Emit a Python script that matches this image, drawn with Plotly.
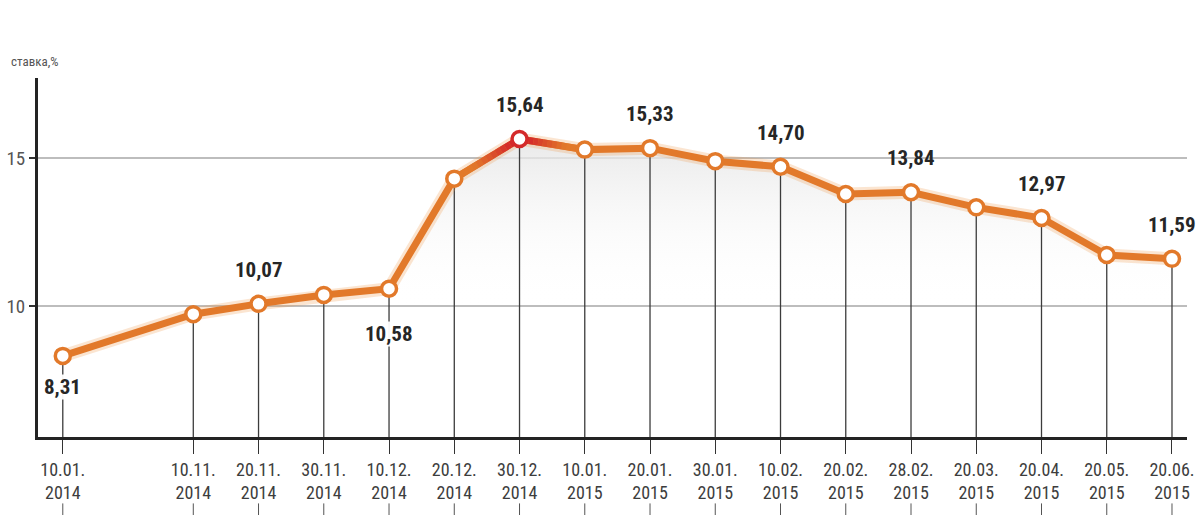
import plotly.graph_objects as go

# Dates shown on the x axis (two-line labels)
dates = ["10.01.<br>2014", "10.11.<br>2014", "20.11.<br>2014", "30.11.<br>2014",
         "10.12.<br>2014", "20.12.<br>2014", "30.12.<br>2014", "10.01.<br>2015",
         "20.01.<br>2015", "30.01.<br>2015", "10.02.<br>2015", "20.02.<br>2015",
         "28.02.<br>2015", "20.03.<br>2015", "20.04.<br>2015", "20.05.<br>2015",
         "20.06.<br>2015"]

# Rate, %
rates = [8.31, 9.72, 10.07, 10.37, 10.58, 14.30, 15.64, 15.28, 15.33, 14.89,
         14.70, 13.78, 13.84, 13.33, 12.97, 11.72, 11.59]

# Points whose value is printed on the chart
labeled = [0, 2, 4, 6, 8, 10, 12, 14, 16]

y_ticks = [10, 15]

# ---- layout helpers -------------------------------------------------------
# an empty slot after the first date marks the skipped months
x_pos = [i + (1 if i > 0 else 0) for i in range(len(rates))]
Y_MIN, Y_MAX = 5.57, 17.70
X_MIN, X_MAX = -0.38, 17.23

ORANGE = "#e2792a"
RED = "#d42a2a"
FONT = "Roboto Condensed, Open Sans Condensed, DejaVu Sans Condensed, sans-serif"

# label offsets in pixels (positive = above the point)
label_shift = {0: -31, 4: -45}
DEFAULT_SHIFT = 34

peak = max(range(len(rates)), key=lambda i: rates[i])

fig = go.Figure()

# shaded area under the curve
fig.add_trace(go.Scatter(
    x=x_pos, y=rates, mode="none", fill="tozeroy",
    fillgradient=dict(type="vertical", start=10.0, stop=16.5,
                      colorscale=[[0, "rgba(255,255,255,0)"], [1, "#e2e2e2"]]),
    hoverinfo="skip", showlegend=False))

# drop lines from each point down to the x axis
fig.add_trace(go.Scatter(
    x=x_pos, y=rates, mode="markers", marker=dict(size=1, opacity=0),
    error_y=dict(type="data", symmetric=False, array=[0] * len(rates),
                 arrayminus=[v - Y_MIN for v in rates],
                 color="#3c3c3c", thickness=1.3, width=0),
    hoverinfo="skip", showlegend=False))

# soft glow under the line
fig.add_trace(go.Scatter(
    x=x_pos, y=rates, mode="lines",
    line=dict(color="rgba(240,150,70,0.25)", width=13),
    hoverinfo="skip", showlegend=False))

# main line
fig.add_trace(go.Scatter(
    x=x_pos, y=rates, mode="lines", line=dict(color=ORANGE, width=7),
    hoverinfo="skip", showlegend=False))


def mix(c1, c2, t):
    a = [int(c1[k:k + 2], 16) for k in (1, 3, 5)]
    b = [int(c2[k:k + 2], 16) for k in (1, 3, 5)]
    return "#" + "".join(f"{round(a[j] + (b[j] - a[j]) * t):02x}" for j in range(3))


# red tint on the two segments meeting at the peak
STEPS = 14
for nb in (peak - 1, peak + 1):
    x0, y0 = x_pos[nb], rates[nb]
    x1, y1 = x_pos[peak], rates[peak]
    for s in range(STEPS):
        t0, t1 = s / STEPS, (s + 1) / STEPS
        tc = min(1.0, max(0.0, ((t0 + t1) / 2 - 0.3) / 0.55))
        fig.add_trace(go.Scatter(
            x=[x0 + (x1 - x0) * t0, x0 + (x1 - x0) * t1],
            y=[y0 + (y1 - y0) * t0, y0 + (y1 - y0) * t1],
            mode="lines", line=dict(color=mix(ORANGE, RED, tc), width=7),
            hoverinfo="skip", showlegend=False))

# point markers
fig.add_trace(go.Scatter(
    x=x_pos, y=rates, mode="markers",
    marker=dict(size=15, color="white",
                line=dict(width=3.5,
                          color=[RED if i == peak else ORANGE for i in range(len(rates))])),
    hoverinfo="skip", showlegend=False))

# value labels
for i in labeled:
    shift = label_shift.get(i, DEFAULT_SHIFT)
    fig.add_annotation(
        x=x_pos[i], y=rates[i], xref="x", yref="y",
        text=f"{rates[i]:.2f}".replace(".", ","),
        showarrow=False, yshift=shift,
        font=dict(family=FONT, size=21, color="#262626", weight="bold"),
        bgcolor="rgba(255,255,255,0.95)" if shift < 0 else None,
        borderpad=0)

# axis title, above the top-left corner of the plot
fig.add_annotation(
    x=-0.025, y=1.045, xref="paper", yref="paper", text="ставка,%",
    showarrow=False, xanchor="left", yanchor="middle",
    font=dict(family=FONT, size=13, color="#555555"))

# small stubs under the date labels
for xp in x_pos:
    fig.add_shape(type="line", xref="x", yref="paper",
                  x0=xp, x1=xp, y0=-0.185, y1=-0.22,
                  line=dict(color="#555555", width=1))

fig.update_layout(
    width=1197, height=515,
    margin=dict(l=38, r=10, t=78, b=78),
    paper_bgcolor="white", plot_bgcolor="rgba(0,0,0,0)",
    showlegend=False,
    xaxis=dict(range=[X_MIN, X_MAX], tickmode="array", tickvals=x_pos,
               ticktext=dates, showgrid=False, zeroline=False, automargin=False,
               showline=True, linecolor="#232323", linewidth=3,
               ticks="outside", ticklen=14, tickwidth=1, tickcolor="#333333",
               ticklabeloverflow="allow",
               tickfont=dict(family=FONT, size=18, color="#3d3d3d")),
    yaxis=dict(range=[Y_MIN, Y_MAX], tickmode="array", tickvals=y_ticks,
               ticktext=[str(t) for t in y_ticks], automargin=False,
               showgrid=True, gridcolor="#bdbdbd", gridwidth=1.5,
               zeroline=False, showline=True, linecolor="#232323", linewidth=3,
               ticks="outside", ticklen=6, tickwidth=1.5, tickcolor="#333333",
               tickfont=dict(family=FONT, size=19, color="#555555")),
)

fig.write_html("out.html")
